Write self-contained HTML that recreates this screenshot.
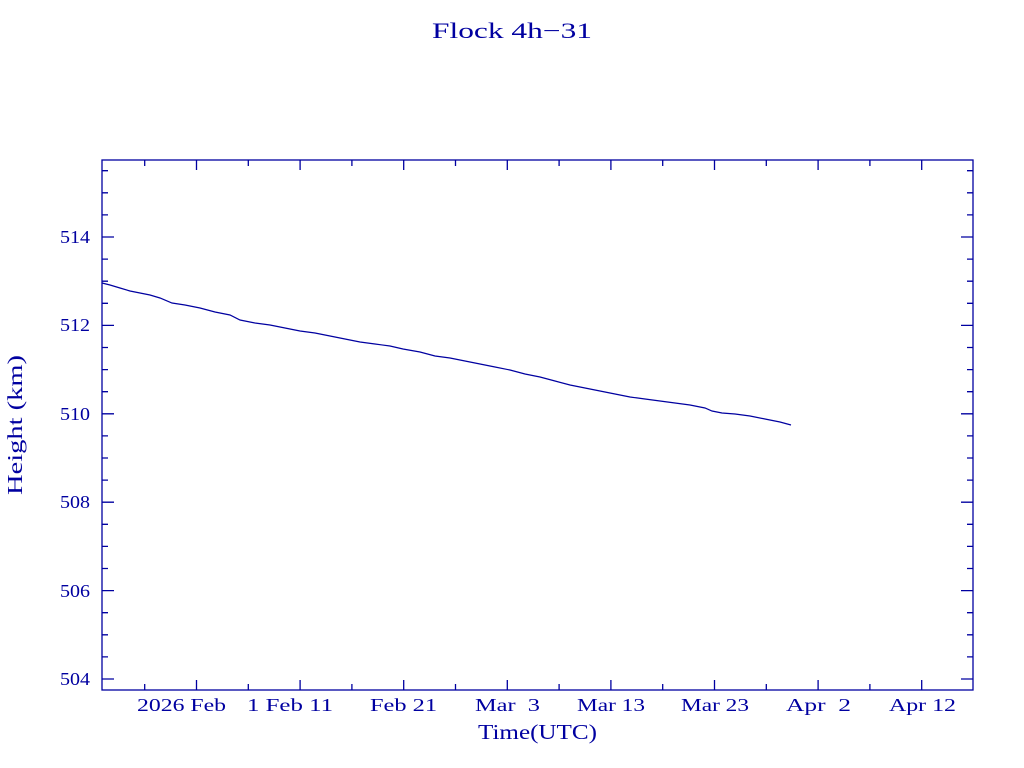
<!DOCTYPE html>
<html><head><meta charset="utf-8"><style>
html,body{margin:0;padding:0;background:#fff;width:1024px;height:768px;overflow:hidden}
svg text{font-family:"Liberation Serif",serif;fill:#0000a0}
</style></head><body>
<svg width="1024" height="768" viewBox="0 0 1024 768" xmlns="http://www.w3.org/2000/svg">
<text x="432" y="38" font-size="22" textLength="160" lengthAdjust="spacingAndGlyphs">Flock 4h−31</text>
<rect x="102" y="160" width="871" height="530" fill="none" stroke="#0000a0" stroke-width="1.3"/>
<g stroke="#0000a0" stroke-width="1.3" fill="none">
<path d="M102 679h12M102 590.6h12M102 502.2h12M102 413.8h12M102 325.4h12M102 237h12
M973 679h-12M973 590.6h-12M973 502.2h-12M973 413.8h-12M973 325.4h-12M973 237h-12
M102 656.9h6M102 634.8h6M102 612.7h6M102 568.5h6M102 546.4h6M102 524.3h6M102 480.1h6M102 458h6M102 435.9h6M102 391.7h6M102 369.6h6M102 347.5h6M102 303.3h6M102 281.2h6M102 259.1h6M102 214.9h6M102 192.8h6M102 170.7h6
M973 656.9h-6M973 634.8h-6M973 612.7h-6M973 568.5h-6M973 546.4h-6M973 524.3h-6M973 480.1h-6M973 458h-6M973 435.9h-6M973 391.7h-6M973 369.6h-6M973 347.5h-6M973 303.3h-6M973 281.2h-6M973 259.1h-6M973 214.9h-6M973 192.8h-6M973 170.7h-6
M196.5 690v-10M300.1 690v-10M403.7 690v-10M507.3 690v-10M610.9 690v-10M714.5 690v-10M818.1 690v-10M921.7 690v-10
M196.5 160v10M300.1 160v10M403.7 160v10M507.3 160v10M610.9 160v10M714.5 160v10M818.1 160v10M921.7 160v10
M144.7 690v-6M248.3 690v-6M351.9 690v-6M455.5 690v-6M559.1 690v-6M662.7 690v-6M766.3 690v-6M869.9 690v-6
M144.7 160v6M248.3 160v6M351.9 160v6M455.5 160v6M559.1 160v6M662.7 160v6M766.3 160v6M869.9 160v6"/>
<polyline stroke-width="1.2" points="102,283 110,285 120,288 130,291 140,293 150,295 160,298 172,303 185,305 200,308 215,312 230,315 240,320 255,323 270,325 285,328 300,331 315,333 330,336 345,339 360,342 375,344 390,346 403,349 420,352 435,356 450,358 465,361 480,364 495,367 510,370 525,374 540,377 555,381 570,385 585,388 600,391 615,394 630,397 645,399 660,401 675,403 690,405 705,408 712,411 722,413 735,414 750,416 765,419 780,422 791,425"/>
</g>
<g font-size="18">
<text x="60" y="685" textLength="30" lengthAdjust="spacingAndGlyphs">504</text>
<text x="60" y="597" textLength="30" lengthAdjust="spacingAndGlyphs">506</text>
<text x="60" y="508" textLength="30" lengthAdjust="spacingAndGlyphs">508</text>
<text x="60" y="420" textLength="30" lengthAdjust="spacingAndGlyphs">510</text>
<text x="60" y="331" textLength="30" lengthAdjust="spacingAndGlyphs">512</text>
<text x="60" y="243" textLength="30" lengthAdjust="spacingAndGlyphs">514</text>
<text x="137" y="711" textLength="89" lengthAdjust="spacingAndGlyphs">2026 Feb</text>
<text x="247" y="711" textLength="86" lengthAdjust="spacingAndGlyphs">1 Feb 11</text>
<text x="370" y="711" textLength="67" lengthAdjust="spacingAndGlyphs">Feb 21</text>
<text x="475" y="711" textLength="65" lengthAdjust="spacingAndGlyphs" xml:space="preserve">Mar  3</text>
<text x="577" y="711" textLength="68" lengthAdjust="spacingAndGlyphs">Mar 13</text>
<text x="681" y="711" textLength="68" lengthAdjust="spacingAndGlyphs">Mar 23</text>
<text x="786" y="711" textLength="65" lengthAdjust="spacingAndGlyphs" xml:space="preserve">Apr  2</text>
<text x="889" y="711" textLength="67" lengthAdjust="spacingAndGlyphs">Apr 12</text>
</g>
<text x="478" y="739" font-size="21" textLength="119" lengthAdjust="spacingAndGlyphs">Time(UTC)</text>
<text transform="translate(22,495) rotate(-90)" font-size="21" textLength="140" lengthAdjust="spacingAndGlyphs">Height (km)</text>
</svg>
</body></html>
